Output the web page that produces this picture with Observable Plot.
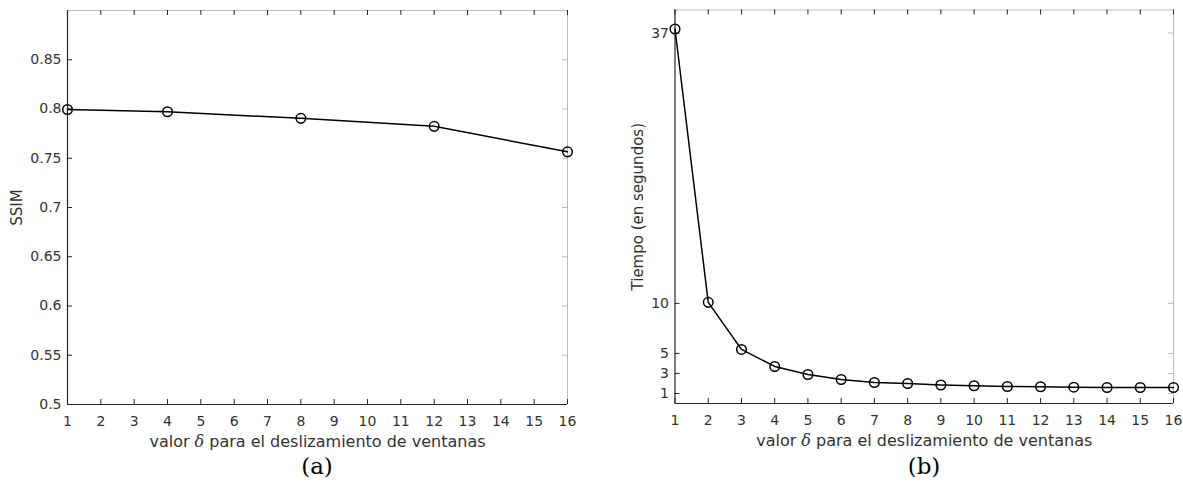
<!DOCTYPE html>
<html><head><meta charset="utf-8">
<script src="https://cdn.jsdelivr.net/npm/d3@7"></script>
<script src="https://cdn.jsdelivr.net/npm/@observablehq/plot@0.6"></script>
<style>
body{margin:0;background:#fff;}
#wrap{position:relative;width:1183px;height:504px;overflow:hidden;}
.col{position:absolute;top:0;}
.cap{position:absolute;font-family:"DejaVu Serif",serif;font-size:23px;line-height:23px;color:#000;text-align:center;width:80px;}
</style></head><body><div id="wrap"></div>
<script>
// ---- data ----
const ssimX = [1, 4, 8, 12, 16];
const ssimY = [0.7995, 0.7972, 0.7905, 0.7824, 0.7565];
const timeX = [1, 2, 3, 4, 5, 6, 7, 8, 9, 10, 11, 12, 13, 14, 15, 16];
const timeY = [37.4, 10.1, 5.4, 3.7, 2.9, 2.4, 2.1, 2.0, 1.85, 1.77, 1.7, 1.67, 1.63, 1.6, 1.6, 1.6];
const xTicks = [1, 2, 3, 4, 5, 6, 7, 8, 9, 10, 11, 12, 13, 14, 15, 16];
const ssimTicks = [0.5, 0.55, 0.6, 0.65, 0.7, 0.75, 0.8, 0.85];
const ssimTickLabels = ["0.5", "0.55", "0.6", "0.65", "0.7", "0.75", "0.8", "0.85"];
const timeTicks = [1, 3, 5, 10, 37];
const timeTickLabels = ["1", "3", "5", "10", "37"];
const xLabel = "valor δ para el deslizamiento de ventanas";
const ssimLabel = "SSIM";
const timeLabel = "Tiempo (en segundos)";
const captions = ["(a)", "(b)"];

const DARK = "#262626", LIGHT = "#bdbdbd", TXT = "#333";

function panel({width, height, ml, mr, mt, mb, xDomain, yDomain, yTicks, yTickLabels, xs, ys, yLabel, yLabelDx}) {
  const fw = width - ml - mr, fh = height - mt - mb;
  const pts = xs.map((x, i) => ({x, y: ys[i]}));
  const fmt = d => yTickLabels[yTicks.indexOf(d)];
  const svg = Plot.plot({
    width, height,
    marginLeft: ml, marginRight: mr, marginTop: mt, marginBottom: mb,
    style: {fontFamily: "'DejaVu Sans', sans-serif", fontSize: "14px", color: TXT, background: "#fff"},
    x: {domain: xDomain, axis: null},
    y: {domain: yDomain, axis: null},
    marks: [
      Plot.ruleY([yDomain[1]], {stroke: LIGHT, strokeWidth: 1}),
      Plot.ruleX([xDomain[1]], {stroke: LIGHT, strokeWidth: 1}),
      Plot.tickY(yTicks, {y: d => d, insetLeft: fw - 5, stroke: LIGHT}),
      Plot.tickX(xTicks, {x: d => d, insetBottom: fh - 5, stroke: DARK}),
      Plot.tickY(yTicks, {y: d => d, insetRight: fw - 5, stroke: DARK}),
      Plot.tickX(xTicks, {x: d => d, insetTop: fh - 5, stroke: DARK}),
      Plot.ruleY([yDomain[0]], {stroke: DARK, strokeWidth: 1.2}),
      Plot.ruleX([xDomain[0]], {stroke: DARK, strokeWidth: 1.2}),
      Plot.axisX(xTicks, {anchor: "bottom", tickSize: 0, tickPadding: 12, label: null, fill: TXT}),
      Plot.axisY(yTicks, {anchor: "left", tickSize: 0, tickPadding: 6, tickFormat: fmt, label: null, fill: TXT}),
      Plot.line(pts, {x: "x", y: "y", stroke: "#000", strokeWidth: 1.5}),
      Plot.dot(pts, {x: "x", y: "y", r: 4.8, stroke: "#000", strokeWidth: 1.5, fill: "none"}),
      Plot.text([yLabel], {text: d => d, frameAnchor: "left", rotate: -90, dx: yLabelDx, lineAnchor: "middle", textAnchor: "middle", fontSize: 15, fill: TXT}),
      Plot.text([xLabel], {text: d => d, frameAnchor: "bottom", dy: 37, lineAnchor: "middle", textAnchor: "middle", fontSize: 16, fill: TXT})
    ]
  });
  // italic serif delta inside the x label
  svg.querySelectorAll("text").forEach(t => {
    if (t.textContent === xLabel) {
      const [a, b] = xLabel.split("δ");
      t.textContent = "";
      const ns = "http://www.w3.org/2000/svg";
      const s1 = document.createElementNS(ns, "tspan"); s1.textContent = a;
      const s2 = document.createElementNS(ns, "tspan"); s2.textContent = "δ";
      s2.setAttribute("font-family", "'DejaVu Serif', serif"); s2.setAttribute("font-style", "italic");
      const s3 = document.createElementNS(ns, "tspan"); s3.textContent = b;
      t.append(s1, s2, s3);
    }
  });
  return svg;
}

const wrap = document.getElementById("wrap");

const left = document.createElement("div");
left.className = "col"; left.style.left = "0px";
left.append(panel({
  width: 590, height: 504, ml: 67, mr: 23, mt: 10, mb: 100,
  xDomain: [1, 16], yDomain: [0.5, 0.9], yTicks: ssimTicks, yTickLabels: ssimTickLabels,
  xs: ssimX, ys: ssimY, yLabel: ssimLabel, yLabelDx: -50
}));
wrap.append(left);

const right = document.createElement("div");
right.className = "col"; right.style.left = "590px";
right.append(panel({
  width: 593, height: 504, ml: 84.5, mr: 10, mt: 9.5, mb: 101,
  xDomain: [1, 16], yDomain: [0, 39.3], yTicks: timeTicks, yTickLabels: timeTickLabels,
  xs: timeX, ys: timeY, yLabel: timeLabel, yLabelDx: -36.5
}));
wrap.append(right);

[[317, captions[0]], [924, captions[1]]].forEach(([cx, txt]) => {
  const c = document.createElement("div");
  c.className = "cap";
  c.style.left = (cx - 40) + "px";
  c.style.top = "455px";
  c.textContent = txt;
  wrap.append(c);
});
</script></body></html>
